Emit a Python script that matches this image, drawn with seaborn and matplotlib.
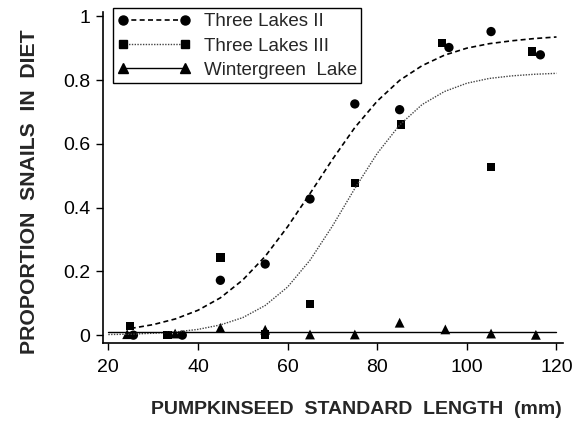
import seaborn as sns
sns.set_style("ticks")
from matplotlib import pyplot as plt
from matplotlib.lines import Line2D
import pandas as pd

plt.rcParams['font.family'] = ['Liberation Sans', 'DejaVu Sans']

tl2_length = [25.6, 36.5, 45, 55, 65, 75, 85, 96, 105.4, 116.4]
tl2_prop = [0.0, 0.0, 0.172, 0.223, 0.427, 0.725, 0.707, 0.902, 0.952, 0.879]

tl3_length = [24.8, 33.2, 45, 55, 65, 75, 85.3, 94.5, 105.4, 114.6]
tl3_prop = [0.029, 0.0, 0.243, 0.002, 0.098, 0.477, 0.661, 0.916, 0.528, 0.889]

wg_length = [24.2, 34.9, 45, 55, 65, 75, 85, 95.2, 105.4, 115.4]
wg_prop = [0.003, 0.005, 0.023, 0.017, 0.002, 0.002, 0.039, 0.018, 0.005, 0.001]

# Fitted curves (every 5 mm)
tl2_fit_length = [25, 30, 35, 40, 45, 50, 55, 60, 65, 70, 75, 80, 85, 90, 95, 100, 105, 110, 115, 120]
tl2_fit = [0.021, 0.033, 0.051, 0.078, 0.117, 0.173, 0.247, 0.340, 0.444, 0.551, 0.651, 0.734,
           0.799, 0.845, 0.878, 0.900, 0.914, 0.923, 0.930, 0.935]

tl3_fit_length = [20, 25, 30, 35, 40, 45, 50, 55, 60, 65, 70, 75, 80, 85, 90, 95, 100, 105, 110, 115, 120]
tl3_fit = [0.002, 0.003, 0.006, 0.010, 0.018, 0.032, 0.055, 0.093, 0.151, 0.235, 0.342, 0.460,
           0.570, 0.659, 0.723, 0.764, 0.790, 0.805, 0.813, 0.818, 0.821]

wg_fit_length = [20, 120]
wg_fit = [0.009, 0.009]

y_ticks = [0, 0.2, 0.4, 0.6, 0.8, 1]
y_tick_labels = ['0', '0.2', '0.4', '0.6', '0.8', '1']
x_ticks = [20, 40, 60, 80, 100, 120]

fig = plt.figure(figsize=(5.85, 4.21), dpi=100)
ax = fig.add_axes([0.176, 0.185, 0.786, 0.787])

# fitted lines
sns.lineplot(x=tl2_fit_length, y=tl2_fit, ax=ax, color='black', lw=1.2, linestyle=(0, (3, 2)))
sns.lineplot(x=tl3_fit_length, y=tl3_fit, ax=ax, color='#444444', lw=1.0, linestyle=(0, (1, 1)))
sns.lineplot(x=wg_fit_length, y=wg_fit, ax=ax, color='black', lw=1.0)

# observed points
sns.scatterplot(x=wg_length, y=wg_prop, ax=ax, marker='^', color='black', s=50, edgecolor='none')
sns.scatterplot(x=tl3_length, y=tl3_prop, ax=ax, marker='s', color='black', s=36, edgecolor='none')
sns.scatterplot(x=tl2_length, y=tl2_prop, ax=ax, marker='o', color='black', s=45, edgecolor='none')

ax.set_xlim(18.8, 121.4)
ax.set_ylim(-0.025, 1.014)
ax.set_xticks(x_ticks)
ax.set_yticks(y_ticks)
ax.set_yticklabels(y_tick_labels)
ax.tick_params(direction='out', length=5, width=1, labelsize=14, colors='black')
ax.tick_params(axis='x', pad=6.5)
ax.tick_params(axis='y', pad=4)
for side in ['left', 'bottom']:
    ax.spines[side].set_linewidth(1.2)
    ax.spines[side].set_color('black')
sns.despine(ax=ax)

ax.set_xlabel('PUMPKINSEED  STANDARD  LENGTH  (mm)', fontsize=14, fontweight='bold')
ax.set_ylabel('PROPORTION  SNAILS  IN  DIET', fontsize=15.3, fontweight='bold')
ax.xaxis.set_label_coords(0.551, -0.175)
ax.yaxis.set_label_coords(-0.14, 0.458)

handles = [
    Line2D([], [], color='black', lw=1.2, linestyle=(0, (3, 2)), marker='o', markersize=6.5),
    Line2D([], [], color='#444444', lw=1.0, linestyle=(0, (1, 1)), marker='s', markersize=6,
           markerfacecolor='black', markeredgecolor='black'),
    Line2D([], [], color='black', lw=1.0, marker='^', markersize=7),
]
leg = ax.legend(handles, ['Three Lakes II', 'Three Lakes III', 'Wintergreen  Lake'],
                loc='upper left', bbox_to_anchor=(0.021, 1.01), borderaxespad=0,
                numpoints=2, handlelength=3.9, handletextpad=0.7, labelspacing=0.38,
                fontsize=13.5, frameon=True, fancybox=False, borderpad=0.25)
leg.get_frame().set_edgecolor('black')
leg.get_frame().set_linewidth(1.0)
leg.get_frame().set_alpha(1)

fig.savefig('out.png', dpi=100)
